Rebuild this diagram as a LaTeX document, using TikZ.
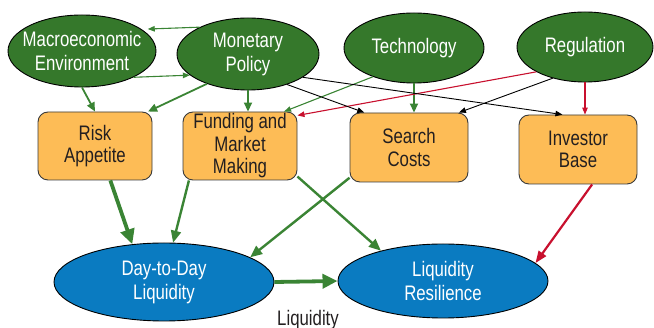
\documentclass[tikz,border=0pt]{standalone}
\usepackage{fontspec}
\setmainfont[FakeStretch=0.8]{Liberation Sans}
\usetikzlibrary{shapes.geometric,arrows.meta,calc}
\definecolor{topgreen}{HTML}{35782B}
\definecolor{arrgreen}{HTML}{3A8434}
\definecolor{liqblue}{HTML}{0A7BC1}
\definecolor{boxorange}{HTML}{FDBC56}
\definecolor{boxline}{HTML}{3A3A3A}
\definecolor{txtdark}{HTML}{231F20}
\definecolor{arrred}{HTML}{C8102E}
\begin{document}
\begin{tikzpicture}[x=1pt,y=-1pt,
  ell/.style={ellipse, draw=black, line width=0.9pt, inner sep=0pt},
  gell/.style={ell, fill=topgreen},
  bell/.style={ell, fill=liqblue},
  wtxt/.style={text=white, font=\fontsize{21}{24}\selectfont, align=center, inner sep=0pt},
  boxn/.style={rectangle, rounded corners=10pt, draw=boxline, line width=0.9pt, fill=boxorange,
    text=txtdark, font=\fontsize{21}{22.5}\selectfont, align=center, inner sep=0pt},
  gthin/.style={draw=arrgreen, line width=1.1pt, -{Triangle[length=7pt,width=5.5pt]}},
  gmed/.style={draw=arrgreen, line width=1.8pt, -{Triangle[length=9pt,width=8pt]}},
  gbig/.style={draw=arrgreen, line width=2.4pt, -{Triangle[length=12pt,width=10pt]}},
  gheavy/.style={draw=arrgreen, line width=3.8pt, -{Triangle[length=15pt,width=14pt]}},
  bthin/.style={draw=black, line width=0.9pt, -{Triangle[length=7pt,width=5.5pt]}},
  rthin/.style={draw=arrred, line width=1.1pt, -{Triangle[length=7pt,width=5.5pt]}},
  rbig/.style={draw=arrred, line width=2.2pt, -{Triangle[length=12pt,width=9pt]}}
]
\useasboundingbox (0,0) rectangle (654,328);

% top ellipses
\node[gell, minimum width=148pt, minimum height=72pt,
  label={[wtxt]center:{Macroeconomic\\Environment}}] (macro) at (82,51) {};
\node[gell, minimum width=142pt, minimum height=72pt,
  label={[wtxt]center:{Monetary\\Policy}}] (monetary) at (248,54) {};
\node[gell, minimum width=140pt, minimum height=70pt,
  label={[wtxt]center:{Technology}}] (tech) at (414,48) {};
\node[gell, minimum width=136pt, minimum height=70pt,
  label={[wtxt]center:{Regulation}}] (reg) at (585,47) {};

% boxes
\node[boxn, minimum width=114pt, minimum height=68pt] (risk) at (95,146) {Risk\\Appetite};
\node[boxn, minimum width=114pt, minimum height=68pt] (funding) at (240,146) {Funding and\\Market\\Making};
\node[boxn, minimum width=118pt, minimum height=69pt] (search) at (409,147.5) {Search\\Costs};
\node[boxn, minimum width=118pt, minimum height=69pt] (investor) at (578,149.5) {Investor\\Base};

% bottom ellipses
\node[bell, minimum width=220pt, minimum height=78pt,
  label={[wtxt]center:{Day-to-Day\\Liquidity}}] (day) at (164,282) {};
\node[bell, minimum width=210pt, minimum height=74pt,
  label={[wtxt]center:{Liquidity\\Resilience}}] (res) at (443,281) {};

\node[anchor=base, inner sep=0pt, text=txtdark, font=\fontsize{21}{24}\selectfont] (liqlabel) at (308,326) {Liquidity};

% top-level connectors
\draw[gthin, shorten >=6pt] (monetary.151) -- (macro.20);
\draw[gthin] (macro.-27) -- (monetary.200);
\draw[gmed] (macro.south) -- (risk.north);
\draw[gmed] (monetary.216) -- (risk.33);
\draw[gmed] (monetary.south) -- (monetary.south |- funding.north);
\draw[gthin] (tech.215) -- (funding.38);
\draw[gmed] (tech.south) -- (tech.south |- search.north);
\draw[rthin] (reg.207) -- (funding.28);
\draw[bthin] (reg.224) -- (search.35);
\draw[rthin] (reg.south) -- (reg.south |- investor.north);
\draw[bthin] (monetary.-38) -- (search.142);
\draw[bthin] (monetary.-23) -- (investor.114);

% lower connectors
\draw[gheavy] (risk.-66) -- (day.130);
\draw[gbig] (funding.214) -- (day.77);
\draw[gbig] (search.207) -- (day.16);
\draw[gbig] (funding.-28) -- (res.154);
\draw[rbig] (investor.-68) -- (res.11);
\draw[gheavy] (day.east) -- (res.west);
\end{tikzpicture}
\end{document}
